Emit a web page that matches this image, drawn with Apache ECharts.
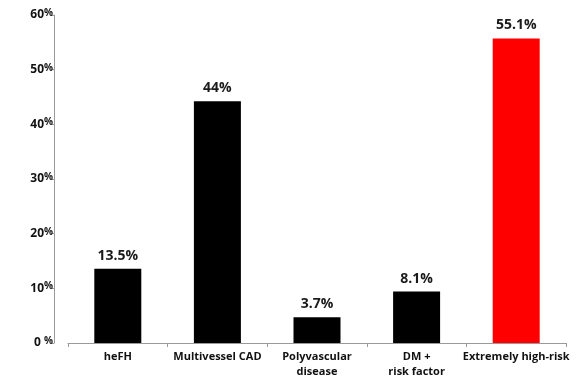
<!DOCTYPE html>
<html>
<head>
<meta charset="utf-8">
<script src="https://cdn.jsdelivr.net/npm/echarts@6/dist/echarts.min.js"></script>
<style>
	html, body { margin: 0; padding: 0; background: #fff; }
	#chart { width: 582px; height: 379px; }
</style>
</head>
<body>
<div id="chart"></div>
<script>
// categories and values
var categories = ['heFH', 'Multivessel CAD', 'Polyvascular\ndisease', 'DM +\nrisk factor', 'Extremely high-risk'];
var barValues = [13.6, 44.2, 4.7, 9.4, 55.7];
var barLabels = ['13.5%', '44%', '3.7%', '8.1%', '55.1%'];
var barColors = ['#000000', '#000000', '#000000', '#000000', '#ff0000'];
var yTicks = [0, 10, 20, 30, 40, 50, 60];

var chart = echarts.init(document.getElementById('chart'));

var font = '"Open Sans", "Noto Sans", sans-serif';

var option = {
	animation: false,
	textStyle: {
		fontFamily: font
	},
	grid: {
		left: 68,
		right: 16,
		top: 15,
		bottom: 35.5
	},
	xAxis: {
		type: 'category',
		data: categories,
		axisLine: {
			lineStyle: { color: '#9a9a9a', width: 1 }
		},
		axisTick: {
			show: true,
			length: 4,
			lineStyle: { color: '#9a9a9a' }
		},
		axisLabel: {
			color: '#111',
			fontFamily: font,
			fontWeight: 'bold',
			fontSize: 11,
			lineHeight: 15,
			margin: 6,
			interval: 0
		}
	},
	yAxis: {
		type: 'value',
		min: yTicks[0],
		max: yTicks[yTicks.length - 1],
		interval: 10,
		offset: 14,
		splitLine: { show: false },
		axisLine: {
			show: true,
			lineStyle: { color: '#9a9a9a', width: 1 }
		},
		axisTick: {
			show: true,
			length: 3,
			lineStyle: { color: '#9a9a9a' }
		},
		axisLabel: {
			margin: 1,
			formatter: function(val) {
				return '{n|' + val + (val === 0 ? ' ' : '') + '}{p|%}';
			},
			rich: {
				n: {
					fontFamily: font,
					fontWeight: 'bold',
					fontSize: 12,
					color: '#111',
					lineHeight: 14
				},
				p: {
					fontFamily: font,
					fontWeight: 'bold',
					fontSize: 10,
					color: '#111',
					lineHeight: 14,
					verticalAlign: 'top',
					padding: [0, 0, 5, 0]
				}
			}
		}
	},
	series: [{
		type: 'bar',
		barWidth: 47,
		data: barValues.map(function(v, i) {
			return {
				value: v,
				itemStyle: { color: barColors[i] },
				label: {
					show: true,
					position: 'top',
					distance: 6,
					formatter: barLabels[i],
					color: '#1a1a1a',
					fontFamily: font,
					fontWeight: 'bold',
					fontSize: 14
				}
			};
		})
	}]
};

chart.setOption(option);
</script>
</body>
</html>
